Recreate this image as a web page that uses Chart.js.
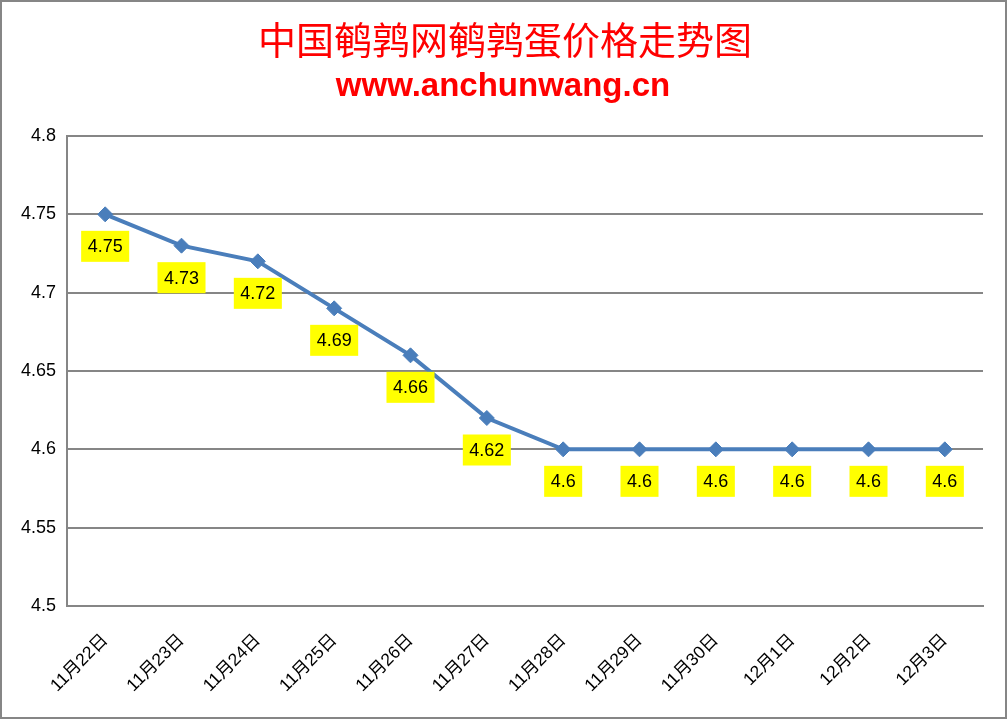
<!DOCTYPE html>
<html>
<head>
<meta charset="utf-8">
<script src="https://cdn.jsdelivr.net/npm/chart.js@4"></script>
<style>
  body{margin:0;background:#fff;}
  #wrap{width:1007px;height:719px;box-sizing:border-box;border:2px solid #868686;background:#fff;}
</style>
</head>
<body>
<div id="wrap"><canvas id="priceChart" width="1003" height="715"></canvas></div>
<script>
// data
const dates = ["11月22日","11月23日","11月24日","11月25日","11月26日","11月27日","11月28日","11月29日","11月30日","12月1日","12月2日","12月3日"];
const prices = [4.75,4.73,4.72,4.69,4.66,4.62,4.6,4.6,4.6,4.6,4.6,4.6];
const yTicks = [4.5,4.55,4.6,4.65,4.7,4.75,4.8];
const mainTitle = "中国鹌鹑网鹌鹑蛋价格走势图";
const subTitle = "www.anchunwang.cn";

const gray = "#868686";

// titles drawn at top
const titlePlugin = {
  id:"titles",
  afterDraw(chart){
    const ctx = chart.ctx;
    ctx.save();
    ctx.fillStyle = "#ff0000";
    ctx.textAlign = "center";
    ctx.textBaseline = "middle";
    ctx.font = "38px 'Noto Sans CJK SC'";
    ctx.fillText(mainTitle, 503, 38);
    ctx.font = "bold 33px 'Liberation Sans'";
    ctx.fillText(subTitle, 501, 85);
    ctx.restore();
  }
};

// yellow value boxes under each point
const labelPlugin = {
  id:"valueBoxes",
  afterDatasetsDraw(chart){
    const ctx = chart.ctx;
    const meta = chart.getDatasetMeta(0);
    ctx.save();
    ctx.font = "18px 'Liberation Sans'";
    ctx.textAlign = "center";
    ctx.textBaseline = "middle";
    meta.data.forEach((pt,i)=>{
      const txt = String(prices[i]);
      const w = ctx.measureText(txt).width + 13;
      const h = 31;
      const cx = pt.x, cy = pt.y + 32;
      ctx.fillStyle = "#ffff00";
      ctx.fillRect(cx - w/2, cy - h/2, w, h);
      ctx.fillStyle = "#000";
      ctx.fillText(txt, cx, cy + 1);
    });
    ctx.restore();
  }
};

new Chart(document.getElementById("priceChart"),{
  type:"line",
  data:{labels:dates,datasets:[{
    data:prices,
    borderColor:"#4a7ebb",
    backgroundColor:"#4a7ebb",
    borderWidth:4,
    pointStyle:"rectRot",
    pointRadius:7.5,
    pointBorderWidth:1,
    tension:0,
    fill:false
  }]},
  options:{
    responsive:false,
    animation:false,
    layout:{padding:{top:134,right:22,bottom:0,left:0}},
    plugins:{legend:{display:false},tooltip:{enabled:false},title:{display:false}},
    scales:{
      x:{
        offset:true,
        grid:{display:false},
        border:{display:true,color:gray,width:2},
        ticks:{color:"#000",font:{family:"'Liberation Sans','Noto Sans CJK SC'",size:17.5},minRotation:45,maxRotation:45,padding:16,autoSkip:false},
        afterFit(s){s.height = 111;}
      },
      y:{
        min:4.5,max:4.8,
        afterBuildTicks(s){s.ticks = yTicks.map(v=>({value:v}));},
        grid:{color:gray,lineWidth:2,drawTicks:false},
        border:{display:true,color:gray,width:2},
        ticks:{color:"#000",font:{family:"'Liberation Sans'",size:18},padding:11,callback:v=>String(+v.toFixed(2))},
        afterFit(s){s.width = 65;}
      }
    }
  },
  plugins:[titlePlugin,labelPlugin]
});
</script>
</body>
</html>
